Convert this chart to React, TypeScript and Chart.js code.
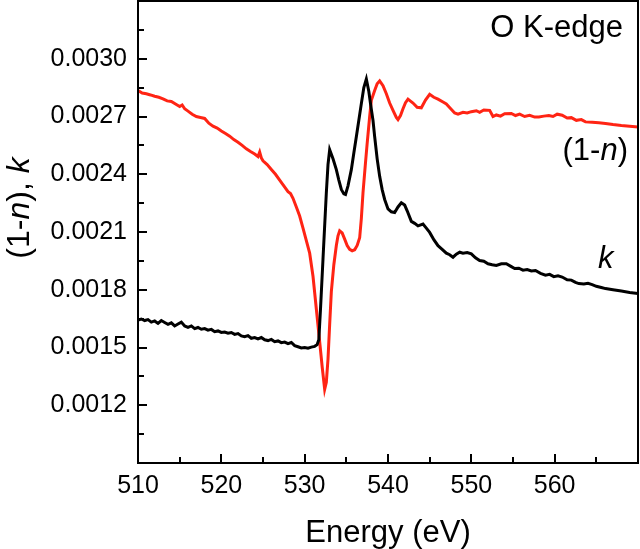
import React, { useEffect, useRef } from "react";
import { Chart, registerables } from "chart.js";

Chart.register(...registerables);

// (1-n) curve: energy (eV) and values
const energyN = [
  510.0, 510.5, 511.0, 511.5, 512.0, 512.5, 513.0, 513.5, 514.0, 514.5, 515.0, 515.3, 515.6, 516.0, 516.5,
  517.0, 517.5, 518.0, 518.5, 519.0, 519.5, 520.0, 520.5, 521.0, 521.5, 522.0, 522.5, 523.0, 523.5, 524.0,
  524.4, 524.6, 524.8, 525.0, 525.5, 526.0, 526.5, 527.0, 527.5, 528.0, 528.3, 528.6, 529.0, 529.4, 529.8,
  530.2, 530.6, 531.0, 531.4, 531.8, 532.1, 532.4, 532.6, 532.8, 533.0, 533.2, 533.5, 533.8, 534.0, 534.2,
  534.5, 534.8, 535.1, 535.4, 535.7, 536.0, 536.3, 536.6, 536.8, 537.0, 537.3, 537.5, 537.8, 538.0, 538.4,
  538.7, 539.0, 539.4, 539.8, 540.2, 540.6, 541.0, 541.2, 541.5, 541.8, 542.1, 542.4, 542.7, 543.0, 543.5,
  544.0, 544.5, 545.0, 545.5, 546.0, 546.6, 547.0, 547.5, 548.0, 548.4, 549.0, 549.5, 550.0, 550.6, 551.0,
  551.5, 552.2, 552.6, 553.0, 553.5, 554.0, 554.8, 555.3, 555.8, 556.4, 557.0, 557.6, 558.1, 558.7, 559.3,
  559.8, 560.3, 560.9, 561.5, 562.0, 562.6, 563.2, 563.7, 564.5, 565.3, 566.1, 567.0, 568.0, 569.0, 570.0,
];
const valuesN = [
  0.002835, 0.002822, 0.002818, 0.002812, 0.002805, 0.0028, 0.002792, 0.002781, 0.002778, 0.002765, 0.002752, 0.00276, 0.00274, 0.002728, 0.002712,
  0.0027, 0.002695, 0.00269, 0.002665, 0.00265, 0.00264, 0.002625, 0.002612, 0.002598, 0.00258, 0.002566, 0.00255, 0.002532, 0.002518, 0.002505,
  0.002492, 0.002515, 0.002485, 0.00247, 0.00245, 0.002425, 0.0024, 0.00237, 0.00234, 0.00231, 0.0023, 0.002275, 0.00223, 0.002183, 0.00212,
  0.002055, 0.00199, 0.00187, 0.0017, 0.00153, 0.0014, 0.001283, 0.00132, 0.00144, 0.00162, 0.00179, 0.00193, 0.00203, 0.00208, 0.002106,
  0.002095, 0.002063, 0.00203, 0.00201, 0.002002, 0.002008, 0.00203, 0.00207, 0.00217, 0.002304, 0.00246, 0.002561, 0.0027, 0.002784, 0.002835,
  0.00287, 0.002885, 0.00286, 0.002818, 0.00277, 0.002732, 0.002695, 0.002684, 0.002705, 0.00274, 0.002772, 0.00279, 0.00278, 0.00277, 0.002748,
  0.002745, 0.002785, 0.002815, 0.0028, 0.00279, 0.002775, 0.002765, 0.002742, 0.002718, 0.002712, 0.002722, 0.002718, 0.002725, 0.00273, 0.002722,
  0.002734, 0.002732, 0.0027, 0.002708, 0.002702, 0.002714, 0.002716, 0.002705, 0.002712, 0.0027, 0.002706, 0.002697, 0.002698, 0.002702, 0.002705,
  0.0027, 0.002712, 0.002707, 0.002692, 0.002694, 0.00268, 0.002684, 0.002672, 0.00267, 0.002667, 0.002664, 0.002658, 0.002653, 0.002649, 0.002645,
];

// k curve: energy (eV) and values
const energyK = [
  510.0, 510.4, 510.8, 511.2, 511.6, 512.0, 512.4, 512.8, 513.2, 513.6, 514.0, 514.4, 514.8, 515.2, 515.6,
  516.0, 516.4, 516.8, 517.2, 517.6, 518.0, 518.4, 518.8, 519.2, 519.6, 520.0, 520.4, 520.8, 521.2, 521.6,
  522.0, 522.4, 522.8, 523.2, 523.6, 524.0, 524.4, 524.8, 525.2, 525.6, 526.0, 526.4, 526.8, 527.2, 527.6,
  528.0, 528.4, 528.8, 529.2, 529.6, 530.0, 530.4, 530.8, 531.2, 531.5, 531.7, 531.9, 532.2, 532.6, 532.8,
  533.0, 533.4, 533.8, 534.1, 534.4, 534.7, 534.9, 535.2, 535.6, 535.9, 536.2, 536.5, 536.8, 537.1, 537.4,
  537.7, 537.9, 538.2, 538.4, 538.7, 539.0, 539.3, 539.6, 540.0, 540.4, 540.8, 541.2, 541.6, 542.0, 542.3,
  542.8, 543.2, 543.6, 544.2, 544.6, 545.0, 545.5, 546.0, 546.5, 547.0, 547.4, 547.8, 548.2, 548.6, 549.0,
  549.5, 550.0, 550.5, 551.0, 551.5, 552.0, 552.5, 553.0, 553.6, 554.2, 554.8, 555.2, 555.7, 556.2, 556.7,
  557.2, 557.7, 558.3, 558.9, 559.4, 559.9, 560.4, 560.9, 561.5, 562.0, 562.5, 562.9, 563.5, 564.0, 564.5,
  565.0, 565.6, 566.1, 567.0, 568.0, 569.0, 570.0,
];
const valuesK = [
  0.001643, 0.001648, 0.00164, 0.001645, 0.001632, 0.001638, 0.001625, 0.00164, 0.00163, 0.00162, 0.001628, 0.001612, 0.001622, 0.001632, 0.001612,
  0.001605, 0.001612, 0.001598, 0.001604, 0.001595, 0.001598, 0.00159, 0.001594, 0.001582, 0.001586, 0.001578, 0.00158, 0.001574, 0.001578, 0.001568,
  0.001572, 0.00156, 0.001556, 0.001562, 0.001548, 0.001552, 0.001545, 0.001552, 0.00154, 0.001536, 0.001542, 0.00153, 0.001534, 0.001525, 0.001528,
  0.00152, 0.001526, 0.00151, 0.001504, 0.001498, 0.0015, 0.001496, 0.001502, 0.001506, 0.001515, 0.00154, 0.0017, 0.00196, 0.002304, 0.00245,
  0.002527, 0.00248, 0.002424, 0.00237, 0.002321, 0.002298, 0.002295, 0.00234, 0.002424, 0.00251, 0.002595, 0.00268, 0.002767, 0.00285, 0.002895,
  0.00283, 0.002767, 0.00268, 0.002595, 0.00248, 0.002389, 0.00232, 0.002269, 0.00222, 0.002205, 0.002201, 0.00223, 0.002252, 0.00224, 0.00221,
  0.002155, 0.002145, 0.002132, 0.002141, 0.00212, 0.002098, 0.00206, 0.002029, 0.00201, 0.00199, 0.001982, 0.001969, 0.001985, 0.001995, 0.00199,
  0.001993, 0.001986, 0.001966, 0.001952, 0.001948, 0.001935, 0.00193, 0.001926, 0.001935, 0.001935, 0.00192, 0.00191, 0.001912, 0.001902, 0.001905,
  0.001898, 0.0019, 0.001885, 0.001876, 0.00188, 0.001868, 0.001872, 0.001866, 0.001852, 0.00185, 0.001838, 0.001832, 0.00183, 0.001834, 0.001827,
  0.001818, 0.001812, 0.001806, 0.0018, 0.001793, 0.001786, 0.00178,
];

const xMin = 510;
const xMax = 570;
const xStep = 10;
const yMin = 0.0009;
const yMax = 0.0033;
const yStep = 0.0003;

const FONT = '"Liberation Sans", Arial, Helvetica, sans-serif';

type Part = [string, boolean];

function drawMixed(ctx: CanvasRenderingContext2D, parts: Part[], x: number, y: number, size: number, align: "left" | "right" | "center") {
  const widths = parts.map(([t, it]) => {
    ctx.font = `${it ? "italic " : ""}${size}px ${FONT}`;
    return ctx.measureText(t).width;
  });
  const total = widths.reduce((a, b) => a + b, 0);
  let cx = align === "left" ? x : align === "right" ? x - total : x - total / 2;
  ctx.textAlign = "left";
  ctx.textBaseline = "alphabetic";
  parts.forEach(([t, it], i) => {
    ctx.font = `${it ? "italic " : ""}${size}px ${FONT}`;
    ctx.fillText(t, cx, y);
    cx += widths[i];
  });
}

const framePlugin = {
  id: "frameAndText",
  afterDraw(chart: any) {
    const { ctx, chartArea } = chart;
    const xs = chart.scales.x;
    const ys = chart.scales.y;
    const { left, right, top, bottom } = chartArea;
    ctx.save();
    ctx.strokeStyle = "#000";
    ctx.fillStyle = "#000";
    ctx.lineWidth = 2;
    ctx.strokeRect(left, top, right - left, bottom - top);
    // x ticks (inward)
    ctx.beginPath();
    for (let v = xMin; v <= xMax + 1e-9; v += xStep / 2) {
      const px = Math.round(xs.getPixelForValue(v));
      const major = Math.abs((v - xMin) % xStep) < 1e-6;
      const len = major ? 9 : 6;
      ctx.moveTo(px, bottom);
      ctx.lineTo(px, bottom - len);
    }
    // y ticks (inward)
    for (let i = 0; i <= Math.round((yMax - yMin) / (yStep / 2)); i++) {
      const v = yMin + (i * yStep) / 2;
      const py = Math.round(ys.getPixelForValue(v));
      const len = i % 2 === 0 ? 9 : 6;
      ctx.moveTo(left, py);
      ctx.lineTo(left + len, py);
    }
    ctx.stroke();

    // annotations
    drawMixed(ctx, [["O K-edge", false]], 623, 37, 31, "right");
    drawMixed(ctx, [["(1-", false], ["n", true], [")", false]], 628, 160, 31, "right");
    drawMixed(ctx, [["k", true]], 598, 268, 31, "left");

    // x title
    drawMixed(ctx, [["Energy (eV)", false]], (left + right) / 2, 542, 31, "center");

    // y title (rotated)
    ctx.translate(29, 208);
    ctx.rotate(-Math.PI / 2);
    drawMixed(ctx, [["(1-", false], ["n", true], ["), ", false], ["k", true]], 0, 0, 32, "center");
    ctx.restore();
  },
};

export default function App() {
  const ref = useRef<HTMLCanvasElement | null>(null);
  useEffect(() => {
    document.body.style.margin = "0";
    const canvas = ref.current;
    if (!canvas) return;
    const chart = new Chart(canvas, {
      type: "line",
      data: {
        datasets: [
          {
            label: "k",
            data: energyK.map((e, i) => ({ x: e, y: valuesK[i] })),
            borderColor: "#000000",
            borderWidth: 3,
            pointRadius: 0,
            tension: 0,
            fill: false,
          },
          {
            label: "(1-n)",
            data: energyN.map((e, i) => ({ x: e, y: valuesN[i] })),
            borderColor: "#ff2414",
            borderWidth: 3,
            pointRadius: 0,
            tension: 0,
            fill: false,
          },
        ],
      },
      options: {
        responsive: false,
        animation: false,
        devicePixelRatio: 1,
        layout: { padding: { top: 1, right: 2, left: 0, bottom: 0 } },
        plugins: { legend: { display: false }, tooltip: { enabled: false }, title: { display: false } },
        scales: {
          x: {
            type: "linear",
            min: xMin,
            max: xMax,
            grid: { display: false, drawTicks: false },
            border: { display: false },
            ticks: {
              stepSize: xStep,
              autoSkip: false,
              maxRotation: 0,
              padding: 8,
              color: "#000",
              font: { family: FONT, size: 25 },
              callback: (v: any) => (Number(v) >= xMax ? "" : String(v)),
            },
            afterFit: (s: any) => {
              s.height = 86;
              s.paddingLeft = 0;
              s.paddingRight = 0;
            },
          },
          y: {
            type: "linear",
            min: yMin,
            max: yMax,
            grid: { display: false, drawTicks: false },
            border: { display: false },
            ticks: {
              stepSize: yStep,
              autoSkip: false,
              padding: 11,
              color: "#000",
              font: { family: FONT, size: 25 },
              callback: (v: any) => {
                const n = Number(v);
                if (n <= yMin + 1e-7 || n >= yMax - 1e-7) return "";
                return n.toFixed(4);
              },
            },
            afterFit: (s: any) => {
              s.width = 138;
              s.paddingTop = 0;
              s.paddingBottom = 0;
            },
          },
        },
      },
      plugins: [framePlugin],
    });
    return () => chart.destroy();
  }, []);
  return <canvas ref={ref} width={640} height={549} style={{ display: "block", width: 640, height: 549 }} />;
}
